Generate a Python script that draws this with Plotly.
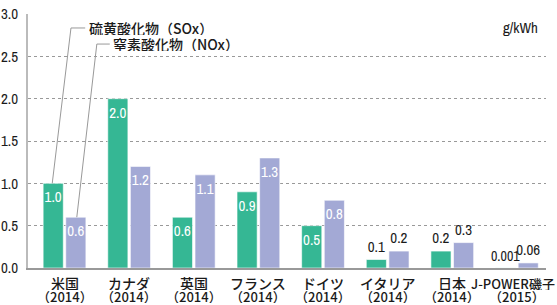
import plotly.graph_objects as go

names = ["米国", "カナダ", "英国", "フランス", "ドイツ", "イタリア", "日本", "J-POWER磯子"]
years = ["（2014）", "（2014）", "（2014）", "（2014）", "（2014）", "（2014）", "（2014）", "（2015）"]
sox = [1.0, 2.0, 0.6, 0.9, 0.5, 0.1, 0.2, 0.001]
nox = [0.6, 1.2, 1.1, 1.3, 0.8, 0.2, 0.3, 0.06]
sox_name = "硫黄酸化物（SOx）"
nox_name = "窒素酸化物（NOx）"
unit = "g/kWh"
yticks = [0.0, 0.5, 1.0, 1.5, 2.0, 2.5, 3.0]

NUMFONT = "Archivo Narrow, Liberation Sans Narrow, DejaVu Sans Condensed, sans-serif"
JPFONT = "Noto Sans CJK JP, sans-serif"
C_SOX = "#35B794"
C_NOX = "#A3A9D5"
TXT = "#1a1a1a"


def fmt(v):
    return f"{v:.1f}" if v >= 0.1 else f"{v:g}"


def positions(vals):
    return ["inside" if v >= 0.5 else "outside" for v in vals]


def colors(vals):
    return ["white" if v >= 0.5 else TXT for v in vals]


def sizes(vals):
    # long labels are set a little tighter, as in the original
    return [15 if len(fmt(v)) <= 4 else 14 for v in vals]


xs = list(range(len(names)))

fig = go.Figure()
for name, vals, col in [(sox_name, sox, C_SOX), (nox_name, nox, C_NOX)]:
    fig.add_trace(go.Bar(
        x=xs, y=vals, name=name,
        marker=dict(color=col, line=dict(color="rgba(255,255,255,0.6)", width=1)),
        text=[fmt(v) for v in vals],
        textposition=positions(vals),
        insidetextanchor="end",
        textangle=0,
        constraintext="none",
        textfont=dict(family=NUMFONT, size=sizes(vals), color=colors(vals)),
        cliponaxis=False,
    ))

# category labels (two tight lines) as annotations
for x, nm, yr in zip(xs, names, years):
    long_name = len(nm) > 6
    fig.add_annotation(x=x, xref="x", y=0, yref="y", text=nm, showarrow=False,
                       yanchor="middle", xanchor="center", xshift=(-4 if long_name else 0),
                       yshift=-15, borderpad=0, height=14,
                       font=dict(family=JPFONT, size=(13 if long_name else 14), color=TXT, weight=500))
    fig.add_annotation(x=x, xref="x", y=0, yref="y", text=yr, showarrow=False, yanchor="middle",
                       yshift=-28, borderpad=0, height=13,
                       font=dict(family=JPFONT, size=13, color=TXT, weight=500))

# leader lines + labels
x_l = 0.10
y_s = 2.835
fig.add_shape(type="line", x0=-0.19, y0=sox[0], x1=x_l, y1=y_s,
              line=dict(color="#999", width=1), layer="above")
fig.add_shape(type="line", x0=x_l, y0=y_s, x1=x_l + 0.22, y1=y_s,
              line=dict(color="#999", width=1), layer="above")
fig.add_annotation(x=x_l + 0.26, y=y_s, text=sox_name, showarrow=False, xanchor="left",
                   borderpad=0, height=14, font=dict(family=JPFONT, size=14, color=TXT, weight=500))
x_n = 0.50
y_n = 2.645
fig.add_shape(type="line", x0=0.19, y0=nox[0], x1=x_n, y1=y_n,
              line=dict(color="#999", width=1), layer="above")
fig.add_shape(type="line", x0=x_n, y0=y_n, x1=x_n + 0.2, y1=y_n,
              line=dict(color="#999", width=1), layer="above")
fig.add_annotation(x=x_n + 0.24, y=y_n, text=nox_name, showarrow=False, xanchor="left",
                   borderpad=0, height=14, font=dict(family=JPFONT, size=14, color=TXT, weight=500))
fig.add_annotation(x=1, xref="paper", y=y_s, text=unit, showarrow=False, xanchor="right",
                   xshift=-6, font=dict(family=NUMFONT, size=15, color=TXT))

fig.update_layout(
    width=557, height=305,
    margin=dict(l=28, r=11, t=14, b=37),
    paper_bgcolor="white", plot_bgcolor="white",
    showlegend=False,
    barmode="group", bargap=0.30, bargroupgap=0.11,
    xaxis=dict(
        tickmode="array", tickvals=xs, showticklabels=False,
        range=[-0.565, 7.45], showgrid=False, zeroline=False,
        showline=True, linecolor="#999", linewidth=2,
        ticks="", automargin=False,
    ),
    yaxis=dict(
        range=[0, 3.0], tickvals=yticks, ticktext=[f"{t:.1f}" for t in yticks],
        showgrid=True, gridcolor="#999", griddash="dot", gridwidth=1,
        zeroline=False, showline=True, linecolor="#bbb", linewidth=2,
        ticks="", ticklabelstandoff=5, automargin=False,
        tickfont=dict(family=NUMFONT, size=15, color=TXT),
    ),
)

fig.write_html("out.html")
